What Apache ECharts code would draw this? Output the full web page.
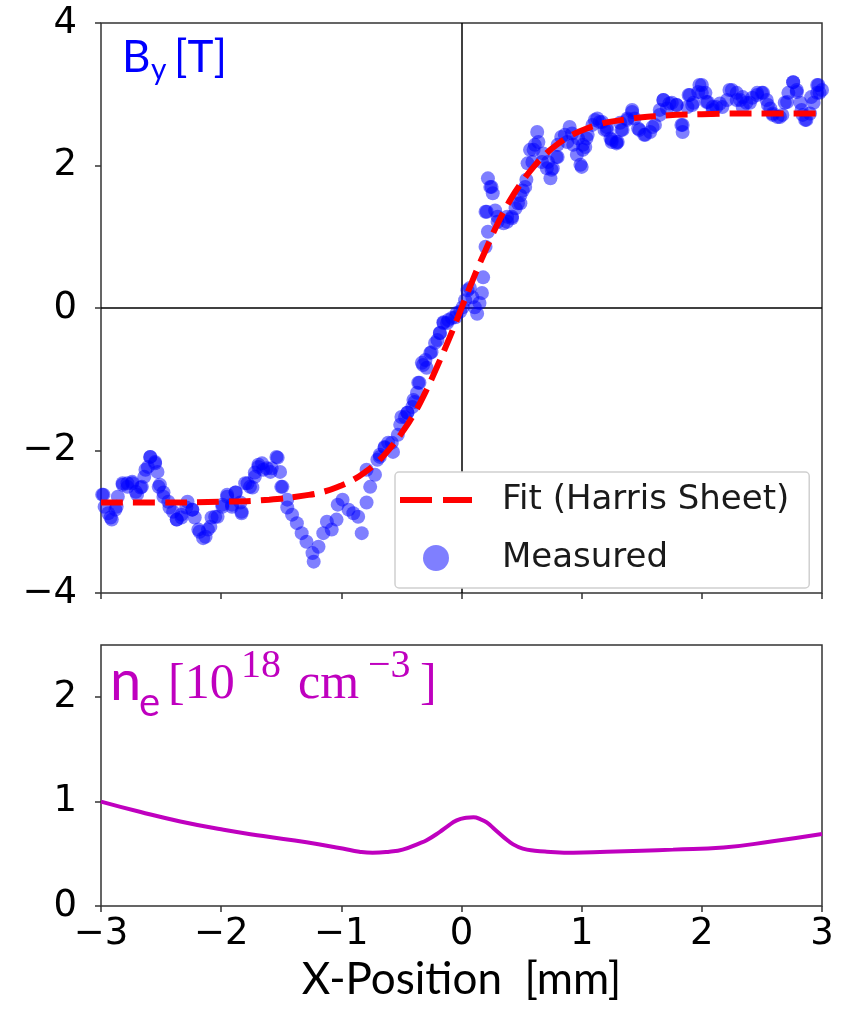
<!DOCTYPE html>
<html>
<head>
<meta charset="utf-8">
<script src="https://cdn.jsdelivr.net/npm/echarts@6/dist/echarts.min.js"></script>
<style>
html,body{margin:0;padding:0;background:#fff;}
#chart{width:841px;height:1021px;}
</style>
</head>
<body>
<div id="chart"></div>
<script>
'use strict';
var measX = [-2.99,-2.97,-2.92,-2.88,-2.86,-2.82,-2.78,-2.74,-2.71,-2.67,-2.64,-2.61,-2.59,-2.55,-2.53,-2.51,-2.48,-2.44,-2.40,-2.37,
  -2.33,-2.29,-2.24,-2.22,-2.19,-2.15,-2.11,-2.08,-2.03,-1.99,-1.95,-1.91,-1.88,-1.84,-1.83,-1.78,-1.74,-1.72,-1.69,-1.66,
  -1.62,-1.58,-1.54,-1.51,-1.49,-1.45,-1.41,-1.37,-1.33,-1.29,-1.24,-1.23,-1.19,-1.15,-1.12,-1.08,-1.04,-1.03,-0.99,-0.94,
  -0.90,-0.86,-0.83,-0.79,-0.76,-0.72,-0.70,-0.68,-0.64,-0.61,-0.57,-0.53,-0.50,-0.47,-0.45,-0.41,-0.39,-0.37,-0.35,-0.33,
  -0.29,-0.25,-0.20,-0.18,-0.15,-0.12,-0.08,-0.04,-0.01,0.01,0.03,0.05,0.07,0.09,0.11,0.13,0.15,0.17,0.18,0.20,
  0.21,0.22,0.22,0.24,0.26,0.28,0.30,0.35,0.38,0.42,0.45,0.47,0.49,0.53,0.54,0.55,0.59,0.60,0.63,0.64,
  0.68,0.72,0.74,0.76,0.79,0.80,0.83,0.88,0.90,0.93,0.96,0.99,1.00,1.01,1.03,1.04,1.09,1.13,1.15,1.17,
  1.19,1.21,1.24,1.25,1.29,1.30,1.33,1.34,1.38,1.42,1.44,1.48,1.52,1.57,1.61,1.65,1.68,1.71,1.75,1.79,
  1.83,1.84,1.88,1.90,1.93,1.97,2.00,2.03,2.05,2.09,2.12,2.17,2.21,2.25,2.29,2.32,2.34,2.37,2.42,2.46,
  2.50,2.54,2.57,2.59,2.63,2.67,2.69,2.72,2.76,2.79,2.82,2.84,2.87,2.90,2.93,2.96,2.97,3.00,
  // second pass over the same cloud
  -2.98,-2.94,-2.91,-2.87,-2.82,-2.78,-2.74,-2.70,-2.66,-2.63,-2.59,-2.55,-2.52,-2.48,-2.43,-2.37,-2.33,-2.28,-2.24,-2.18,
  -2.13,-2.09,-2.05,-1.99,-1.95,-1.91,-1.88,-1.83,-1.80,-1.76,-1.72,-1.69,-1.65,-1.59,-1.53,-1.50,-1.45,
  -0.79,-0.68,-0.64,-0.58,-0.51,-0.45,-0.40,-0.36,-0.32,-0.30,-0.26,-0.22,-0.18,-0.15,-0.11,-0.05,
  0.20,0.25,0.30,0.38,0.42,0.49,0.51,0.57,0.61,0.67,0.71,0.75,0.80,0.86,0.92,0.97,1.01,1.05,1.11,1.21,1.25,1.29,
  1.32,1.38,1.42,1.47,1.53,1.59,1.65,1.68,1.73,1.79,1.84,1.89,1.92,1.98,2.00,2.04,2.09,2.15,2.23,2.29,
  2.34,2.40,2.46,2.51,2.55,2.59,2.65,2.71,2.76,2.79,2.83,2.86,2.91,2.96,2.98];
var measY = [-2.62,-2.79,-2.94,-2.83,-2.65,-2.48,-2.46,-2.46,-2.58,-2.52,-2.37,-2.23,-2.09,-2.16,-2.30,-2.48,-2.59,-2.72,-2.86,-2.97,
  -2.94,-2.80,-2.83,-2.94,-3.11,-3.23,-3.11,-2.94,-2.93,-2.79,-2.65,-2.79,-2.59,-2.73,-2.88,-2.46,-2.52,-2.37,-2.23,-2.18,
  -2.25,-2.25,-2.09,-2.30,-2.51,-2.69,-2.90,-3.02,-3.16,-3.28,-3.44,-3.56,-3.35,-3.16,-3.00,-3.11,-2.97,-2.76,-2.69,-2.83,
  -2.88,-2.93,-3.16,-2.73,-2.51,-2.34,-2.13,-2.06,-1.96,-1.89,-2.02,-1.78,-1.53,-1.53,-1.47,-1.39,-1.32,-1.19,-1.05,-0.77,
  -0.84,-0.62,-0.45,-0.35,-0.20,-0.21,-0.14,-0.07,-0.05,0.01,0.11,0.25,0.28,0.15,0.01,-0.08,0.07,0.21,0.43,0.86,
  1.35,1.07,1.82,1.70,1.61,1.37,1.21,1.19,1.28,1.26,1.40,1.47,1.58,1.70,1.80,2.03,2.05,2.22,2.47,2.33,
  2.17,2.05,1.82,1.96,2.12,2.12,2.40,2.33,2.54,2.29,2.15,2.01,1.98,2.22,2.26,2.38,2.57,2.66,2.61,2.61,
  2.50,2.50,2.38,2.33,2.33,2.33,2.50,2.50,2.64,2.75,2.66,2.50,2.43,2.47,2.57,2.71,2.92,2.80,2.88,2.85,
  2.57,2.47,2.82,2.99,2.88,3.03,3.13,3.02,2.89,2.78,2.82,2.82,2.92,3.06,3.02,2.92,2.82,2.88,2.95,3.02,
  3.02,2.92,2.80,2.71,2.68,2.71,2.88,3.02,3.17,3.06,2.88,2.71,2.64,2.73,2.88,3.02,3.13,3.06,
  // second pass over the same cloud
  -2.62,-2.88,-2.97,-2.79,-2.46,-2.51,-2.44,-2.62,-2.51,-2.27,-2.09,-2.18,-2.51,-2.65,-2.80,-2.97,-2.90,-2.72,-2.83,-3.14,
  -3.21,-3.07,-2.93,-2.76,-2.62,-2.76,-2.59,-2.86,-2.46,-2.51,-2.31,-2.20,-2.27,-2.30,-2.10,-2.51,-2.80,
  -2.27,-2.09,-1.95,-1.89,-1.64,-1.47,-1.29,-1.05,-0.80,-0.73,-0.63,-0.49,-0.35,-0.21,-0.17,-0.13,
  1.35,1.70,1.28,1.21,1.28,1.47,1.65,2.22,2.29,2.05,1.96,1.94,2.29,2.43,2.45,2.38,2.29,2.43,2.64,2.54,2.36,2.31,
  2.60,2.66,2.78,2.52,2.43,2.54,2.78,2.92,2.87,2.85,2.57,2.99,2.85,3.13,3.02,2.89,2.82,2.87,3.06,2.92,
  2.96,2.88,2.99,3.02,2.85,2.73,2.68,2.89,3.17,3.03,2.78,2.64,2.96,3.13,3.02];
// Harris sheet fit
var fitX = [-3,-2.5,-2,-1.6,-1.3,-1.15,-1.0,-0.9,-0.8,-0.7,-0.6,-0.5,-0.4,-0.3,-0.2,-0.1,0,0.1,0.2,0.3,0.4,0.5,0.6,0.7,0.8,0.9,1.0,1.15,1.3,1.6,2,2.5,3];
var fitY = [-2.73,-2.73,-2.72,-2.69,-2.63,-2.58,-2.49,-2.41,-2.30,-2.16,-1.98,-1.76,-1.50,-1.18,-0.81,-0.42,0,0.42,0.81,1.18,1.50,1.76,1.98,2.16,2.30,2.41,2.49,2.58,2.63,2.69,2.72,2.73,2.73];
// electron density (1e18 cm^-3)
var neX = [-3.0,-2.67,-2.34,-1.98,-1.65,-1.29,-0.99,-0.85,-0.74,-0.60,-0.49,-0.35,-0.29,-0.18,-0.12,-0.04,0.04,0.10,0.16,0.21,0.28,0.35,0.43,0.51,0.61,0.71,0.93,1.21,1.50,1.76,2.18,2.59,3.0];
var neY = [1.00,0.90,0.81,0.73,0.67,0.61,0.55,0.52,0.51,0.52,0.54,0.60,0.63,0.71,0.76,0.82,0.845,0.85,0.83,0.80,0.73,0.66,0.59,0.55,0.53,0.52,0.51,0.52,0.53,0.54,0.56,0.62,0.69];

function zip(a, b) {
  var out = [];
  for (var i = 0; i < a.length; i++) out.push([a[i], b[i]]);
  return out;
}
function fmt(v) {
  return v < 0 ? '\u2212' + Math.abs(v) : String(v);
}

var frame = '#333';
var magenta = '#bf00bf';
var tickFont = {fontFamily: 'DejaVu Sans', fontSize: 37, color: '#000'};

var chart = echarts.init(document.getElementById('chart'), null, {renderer: 'canvas'});

var axisX = function (idx, labels) {
  return {
    type: 'value', gridIndex: idx, min: -3, max: 3, interval: 1,
    axisLine: {show: false, onZero: false},
    axisTick: {show: true, inside: false, length: 6, lineStyle: {color: frame, width: 1.5}},
    splitLine: {show: false},
    axisLabel: Object.assign({show: labels, margin: 10, formatter: fmt}, tickFont)
  };
};
var axisY = function (idx, min, max, step) {
  return {
    type: 'value', gridIndex: idx, min: min, max: max, interval: step,
    axisLine: {show: false, onZero: false},
    axisTick: {show: true, inside: false, length: 6, lineStyle: {color: frame, width: 1.5}},
    splitLine: {show: false},
    axisLabel: Object.assign({margin: 24, formatter: fmt}, tickFont)
  };
};

var xBottom = axisX(1, true);
xBottom.name = 'X-Position  [mm]';
xBottom.nameLocation = 'middle';
xBottom.nameGap = 52;
xBottom.nameTextStyle = {fontFamily: 'Lato', fontSize: 44, color: '#000'};

var yBottom = axisY(1, 0, 2.5, 1);
yBottom.axisLabel.showMaxLabel = false;

// two red dashes, with invisible corner dots to keep the 72x26 box
var dashIcon = 'path://M0,0h0.01v0.01h-0.01z M71.99,25.99h0.01v0.01h-0.01z M0,10h32v6h-32z M43,10h29v6h-29z';

var option = {
  backgroundColor: '#fff',
  animation: false,
  grid: [
    {left: 101, top: 23, width: 721, height: 570, show: true, borderColor: frame, borderWidth: 1.5, backgroundColor: 'transparent'},
    {left: 101, top: 645, width: 721, height: 261, show: true, borderColor: frame, borderWidth: 1.5, backgroundColor: 'transparent'}
  ],
  xAxis: [axisX(0, false), xBottom],
  yAxis: [axisY(0, -4, 4, 2), yBottom],
  legend: {
    orient: 'vertical',
    left: 395, top: 472, z: 6,
    padding: [11, 20, 13, 5],
    itemWidth: 72, itemHeight: 26, itemGap: 24,
    backgroundColor: '#fff',
    borderColor: '#d0d0d0', borderWidth: 1.5, borderRadius: 4,
    textStyle: {fontFamily: 'DejaVu Sans', fontSize: 34, color: '#1a1a1a', padding: [0, 0, 0, 25]},
    data: [
      {name: 'Fit (Harris Sheet)', icon: dashIcon, itemStyle: {color: '#ff0000'}},
      {name: 'Measured', icon: 'circle'}
    ]
  },
  graphic: [
    {type: 'text', left: 122, top: 36, style: {text: 'B', fill: '#0000ff', font: '44px Lato'}},
    {type: 'text', left: 151, top: 55, style: {text: 'y', fill: '#0000ff', font: '30px Lato'}},
    {type: 'text', left: 174, top: 36, style: {text: '[T]', fill: '#0000ff', font: '44px Lato'}},
    {type: 'text', left: 110, top: 654, style: {text: 'n', fill: magenta, font: '56px Lato'}},
    {type: 'text', left: 139, top: 683, style: {text: 'e', fill: magenta, font: '40px Lato'}},
    {type: 'text', left: 168, top: 660, style: {text: '[10', fill: magenta, font: '50px "Liberation Serif"'}},
    {type: 'text', left: 241, top: 646, style: {text: '18', fill: magenta, font: '40px "Liberation Serif"'}},
    {type: 'text', left: 298, top: 660, style: {text: 'cm', fill: magenta, font: '50px "Liberation Serif"'}},
    {type: 'text', left: 368, top: 646, style: {text: '\u22123', fill: magenta, font: '40px "Liberation Serif"'}},
    {type: 'text', left: 420, top: 660, style: {text: ']', fill: magenta, font: '50px "Liberation Serif"'}}
  ],
  series: [
    {
      name: 'Fit (Harris Sheet)', type: 'line', xAxisIndex: 0, yAxisIndex: 0,
      data: zip(fitX, fitY), symbol: 'none', smooth: true, z: 3,
      lineStyle: {color: '#ff0000', width: 6, type: [22, 10]},
      itemStyle: {color: '#ff0000'}
    },
    {
      name: 'Measured', type: 'scatter', xAxisIndex: 0, yAxisIndex: 0,
      data: zip(measX, measY), symbol: 'circle', symbolSize: 14, z: 2,
      itemStyle: {color: '#0000ff', opacity: 0.5},
      markLine: {
        silent: true, symbol: 'none', animation: false, z: 1,
        label: {show: false},
        lineStyle: {color: '#000', width: 1.5, type: 'solid', opacity: 1},
        data: [{xAxis: 0}, {yAxis: 0}]
      }
    },
    {
      name: 'ne', type: 'line', xAxisIndex: 1, yAxisIndex: 1,
      data: zip(neX, neY), symbol: 'none', smooth: true,
      lineStyle: {color: magenta, width: 4}
    }
  ]
};
chart.setOption(option);
</script>
</body>
</html>
